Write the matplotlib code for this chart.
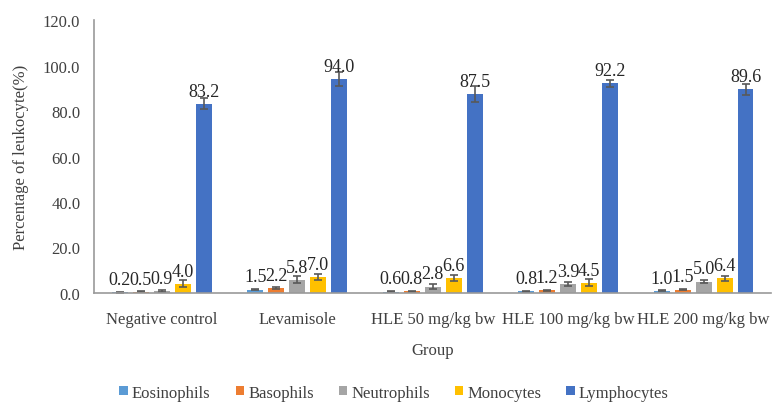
import numpy as np
import matplotlib.pyplot as plt

plt.rcParams['font.family'] = ['Liberation Serif', 'DejaVu Serif']

groups = ["Negative control", "Levamisole", "HLE 50 mg/kg bw",
          "HLE 100 mg/kg bw", "HLE 200 mg/kg bw"]
cells = ["Eosinophils", "Basophils", "Neutrophils", "Monocytes", "Lymphocytes"]

eosinophils = [0.2, 1.5, 0.6, 0.8, 1.0]
basophils = [0.5, 2.2, 0.8, 1.2, 1.5]
neutrophils = [0.9, 5.8, 2.8, 3.9, 5.0]
monocytes = [4.0, 7.0, 6.6, 4.5, 6.4]
lymphocytes = [83.2, 94.0, 87.5, 92.2, 89.6]

# standard errors
eos_err = [0.1, 0.3, 0.2, 0.2, 0.3]
baso_err = [0.2, 0.4, 0.2, 0.3, 0.3]
neut_err = [0.4, 1.5, 1.0, 0.8, 0.8]
mono_err = [1.5, 1.5, 1.2, 1.5, 1.2]
lymph_err = [2.5, 3.0, 3.5, 1.5, 2.5]

values = [eosinophils, basophils, neutrophils, monocytes, lymphocytes]
errors = [eos_err, baso_err, neut_err, mono_err, lymph_err]
colors = ["#5B9BD5", "#ED7D31", "#A5A5A5", "#FFC000", "#4472C4"]

fig = plt.figure(figsize=(7.72, 4.06), dpi=100)
ax = fig.add_axes([0.122, 0.276, 0.877, 0.672])

x = np.arange(len(groups))
step = 0.155
width = 0.118
for i, (name, vals, errs, col) in enumerate(zip(cells, values, errors, colors)):
    pos = x + (i - 2) * step
    ax.bar(pos, vals, width, color=col, label=name,
           yerr=errs, capsize=3,
           error_kw=dict(ecolor="#595959", elinewidth=1.2, capthick=1.2))
    for px, v in zip(pos, vals):
        ax.annotate(f"{v:.1f}", (px, v), xytext=(0, 3), textcoords="offset points",
                    ha="center", va="bottom", fontsize=13, color="#262626")

ax.set_xlim(-0.5, len(groups) - 0.5)
ax.set_ylim(0, 120)
ax.set_yticks(np.arange(0, 121, 20))
ax.set_yticklabels([f"{t:.1f}" for t in np.arange(0, 121, 20)])
ax.set_xticks(x)
ax.set_xticklabels(groups)
ax.tick_params(axis="both", length=0, labelsize=12, colors="#404040")
ax.tick_params(axis="x", pad=13)
ax.tick_params(axis="y", pad=10)

for s in ["top", "right"]:
    ax.spines[s].set_visible(False)
for s in ["left", "bottom"]:
    ax.spines[s].set_color("#9A9A9A")
    ax.spines[s].set_linewidth(1.2)

ax.set_xlabel("Group", fontsize=12, color="#404040", labelpad=11)
ax.set_ylabel("Percentage of leukocyte(%)", fontsize=12, color="#404040", labelpad=10)

ax.legend(loc="center", bbox_to_anchor=(0.443, -0.365), ncol=5, frameon=False,
          fontsize=12, handlelength=0.5, handleheight=0.5, handletextpad=0.25,
          columnspacing=1.5, labelcolor="#404040")

fig.savefig("out.png", dpi=100)
